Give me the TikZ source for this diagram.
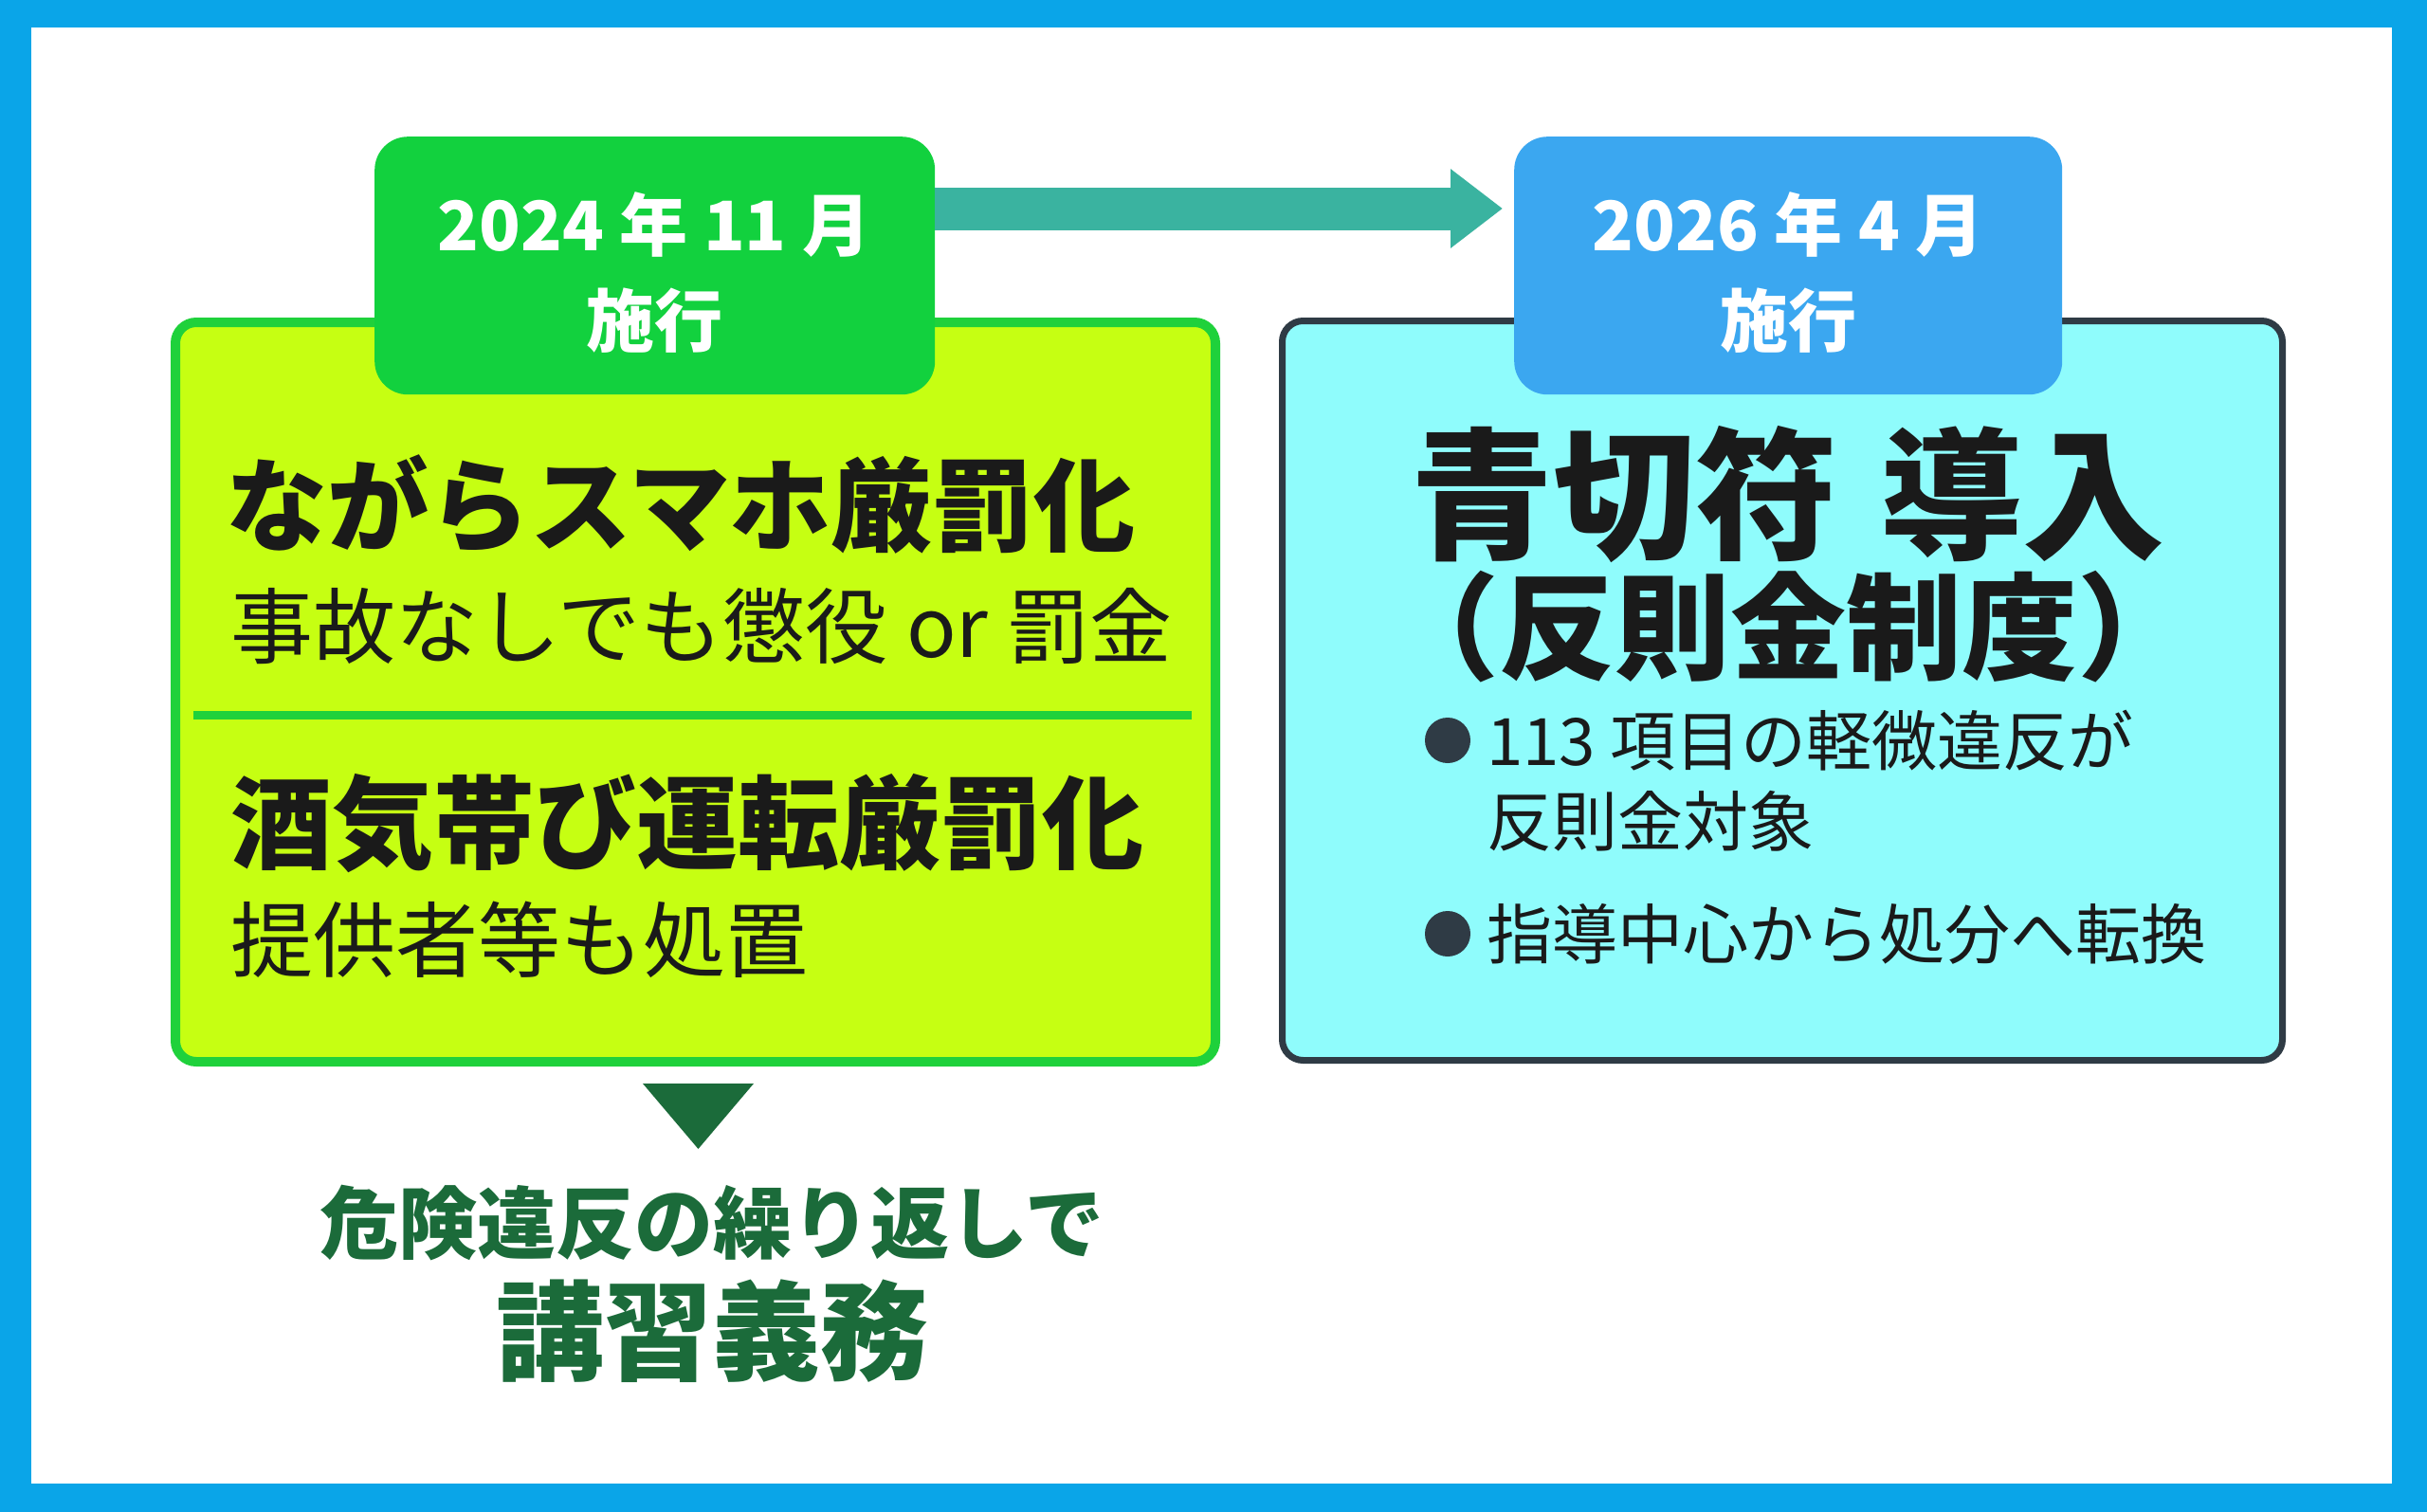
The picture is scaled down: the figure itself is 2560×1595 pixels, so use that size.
\documentclass[tikz,border=0pt]{standalone}
\usepackage{fontspec}
\newfontfamily\cjk{Noto Sans CJK JP}
\usetikzlibrary{arrows.meta}
\definecolor{frameblue}{HTML}{0AA5E8}
\definecolor{lime}{HTML}{C6FF12}
\definecolor{lgreen}{HTML}{1FD13B}
\definecolor{tabgreen}{HTML}{12D13E}
\definecolor{tabblue}{HTML}{3BA7F0}
\definecolor{cyanbox}{HTML}{8FFCFC}
\definecolor{darkedge}{HTML}{2F3B45}
\definecolor{teal}{HTML}{3AB3A0}
\definecolor{dgreen}{HTML}{1B6B3A}
\definecolor{ink}{HTML}{1A1A1A}
\newcommand{\fs}[1]{\fontsize{#1}{#1}\selectfont}
\tikzset{
  txt/.style={inner sep=0pt, font=\cjk\bfseries, text=ink},
  tabtxt/.style={inner sep=0pt, font=\cjk\bfseries\fs{72}, text=white},
}
\begin{document}
\begin{tikzpicture}[x=1pt,y=-1pt]
\useasboundingbox (0,0) rectangle (2560,1595);
\fill[frameblue] (0,0) rectangle (2560,1595);
\fill[white] (33,29) rectangle (2523,1565);
% boxes
\node[draw=lgreen, line width=10pt, fill=lime, rounded corners=22pt, minimum width=1097pt, minimum height=780pt, anchor=north west] (lbox) at (180,335) {};
\node[draw=darkedge, line width=7pt, fill=cyanbox, rounded corners=22pt, minimum width=1055pt, minimum height=780pt, anchor=north west] (rbox) at (1349,335) {};
% tabs
\node[fill=tabgreen, rounded corners=35pt, minimum width=591pt, minimum height=272pt, anchor=north west] (ltab) at (395,144) {};
\node[fill=tabblue, rounded corners=35pt, minimum width=578pt, minimum height=272pt, anchor=north west] (rtab) at (1597,144) {};
\node[tabtxt] (l1) at (690,237) {2024 年 11 月};
\node[tabtxt] (l2) at (690,338) {施行};
\node[tabtxt] (r1) at (1886,237) {2026 年 4 月};
\node[tabtxt] (r2) at (1886,338) {施行};
% arrow
\draw[teal, line width=45pt, -{Triangle[length=55pt,width=80pt]}] (ltab.east |- 0,220) -- (1585,220);
% left texts
\node[txt, font=\cjk\bfseries\fs{107}] (a1) at (718,532) {ながらスマホ厳罰化};
\node[txt, font=\cjk\fs{87}, anchor=west] (a2) at (243,661) {事故なしでも懲役 or 罰金};
\draw[lgreen, line width=9pt] (204,754) -- (1257,754);
\node[txt, font=\cjk\bfseries\fs{107}] (b1) at (725,869) {酒気帯び運転厳罰化};
\node[txt, font=\cjk\fs{87}, anchor=west] (b2) at (243,991) {提供者等も処置};
% triangle
\fill[dgreen] (678,1143) -- (795,1143) -- (736.5,1212) -- cycle;
\node[txt, text=dgreen, font=\cjk\bfseries\fs{83}] (c1) at (751,1290) {危険違反の繰り返しで};
\node[txt, text=dgreen, font=\cjk\bfseries\fs{114}] (c2) at (751,1404) {講習義務};
% right texts
\node[txt, font=\cjk\bfseries\fs{150}] (d1) at (1886,522) {青切符\hspace{0.3em}導入};
\node[txt, font=\cjk\bfseries\fs{122}] (d2) at (1886,661) {（反則金制度）};
\fill[darkedge] (1527,781) circle (24pt);
\fill[darkedge] (1527,985) circle (24pt);
\node[txt, font=\cjk\fs{69}, anchor=west] (e1) at (1568,781) {113 項目の軽微違反が};
\node[txt, font=\cjk\fs{69}, anchor=west] (e2) at (1568,866) {反則金対象};
\node[txt, font=\cjk\fs{69}, anchor=west] (e3) at (1568,985) {指導中心から処分へ転換};
\end{tikzpicture}
\end{document}
